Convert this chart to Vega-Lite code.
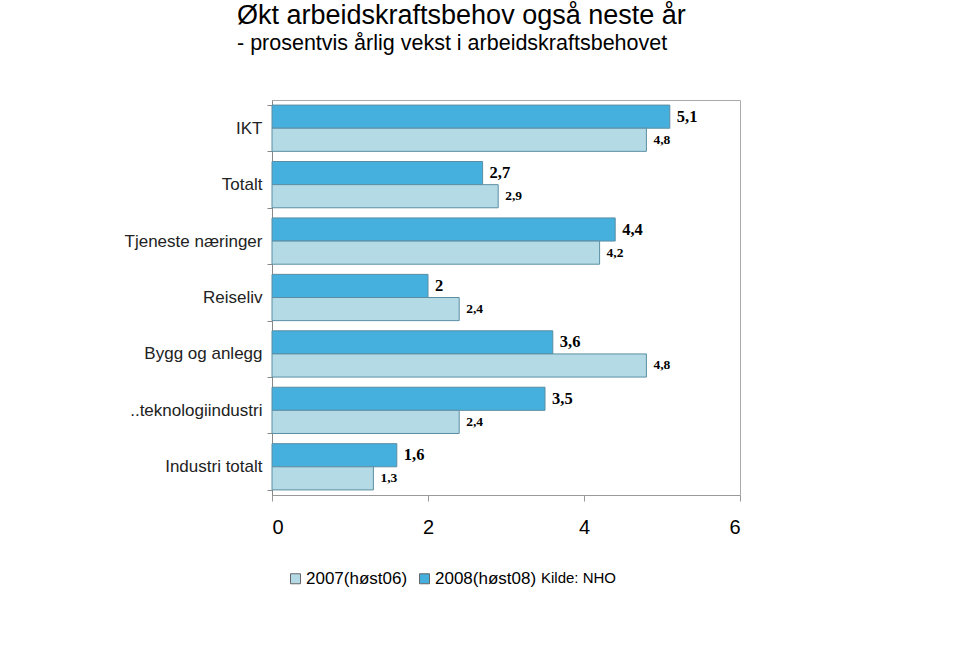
{
  "$schema": "https://vega.github.io/schema/vega-lite/v6.json",
  "width": 468,
  "height": 395,
  "autosize": {"type": "none"},
  "padding": {"left": 272, "top": 100, "right": 220, "bottom": 163},
  "background": "white",
  "config": {
    "locale": {"number": {"decimal": ",", "thousands": " ", "grouping": [3], "currency": ["", " kr"]}},
    "font": "Liberation Sans",
    "view": {"stroke": "#aaaaaa", "strokeWidth": 1}
  },
  "title": {
    "text": "Økt arbeidskraftsbehov også neste år",
    "subtitle": "- prosentvis årlig vekst i arbeidskraftsbehovet",
    "anchor": "start",
    "frame": "group",
    "dx": -35,
    "offset": 36,
    "font": "Liberation Sans",
    "fontSize": 27,
    "fontWeight": "normal",
    "color": "#000000",
    "subtitleFont": "Liberation Sans",
    "subtitleFontSize": 21.5,
    "subtitleColor": "#000000",
    "subtitlePadding": 3
  },
  "data": {
    "values": [
      {"cat": "IKT", "serie": "2008(høst08)", "v": 5.1},
      {"cat": "IKT", "serie": "2007(høst06)", "v": 4.8},
      {"cat": "Totalt", "serie": "2008(høst08)", "v": 2.7},
      {"cat": "Totalt", "serie": "2007(høst06)", "v": 2.9},
      {"cat": "Tjeneste næringer", "serie": "2008(høst08)", "v": 4.4},
      {"cat": "Tjeneste næringer", "serie": "2007(høst06)", "v": 4.2},
      {"cat": "Reiseliv", "serie": "2008(høst08)", "v": 2},
      {"cat": "Reiseliv", "serie": "2007(høst06)", "v": 2.4},
      {"cat": "Bygg og anlegg", "serie": "2008(høst08)", "v": 3.6},
      {"cat": "Bygg og anlegg", "serie": "2007(høst06)", "v": 4.8},
      {"cat": "..teknologiindustri", "serie": "2008(høst08)", "v": 3.5},
      {"cat": "..teknologiindustri", "serie": "2007(høst06)", "v": 2.4},
      {"cat": "Industri  totalt", "serie": "2008(høst08)", "v": 1.6},
      {"cat": "Industri  totalt", "serie": "2007(høst06)", "v": 1.3}
    ]
  },
  "encoding": {
    "y": {
      "field": "cat",
      "type": "nominal",
      "sort": ["IKT", "Totalt", "Tjeneste næringer", "Reiseliv", "Bygg og anlegg", "..teknologiindustri", "Industri  totalt"],
      "scale": {"paddingInner": 0.18, "paddingOuter": 0.09},
      "axis": {
        "title": null,
        "tickBand": "extent",
        "tickSize": 5,
        "tickColor": "#888888",
        "domainColor": "#888888",
        "labelFontSize": 17,
        "labelColor": "#222222",
        "labelPadding": 5,
        "labelFont": "Liberation Sans",
        "labelLimit": 300
      }
    },
    "yOffset": {
      "field": "serie",
      "type": "nominal",
      "scale": {"domain": ["2008(høst08)", "2007(høst06)"], "paddingInner": 0, "paddingOuter": 0}
    },
    "x": {
      "field": "v",
      "type": "quantitative",
      "scale": {"domain": [0, 6], "nice": false},
      "axis": {
        "title": null,
        "values": [0, 2, 4, 6],
        "grid": false,
        "tickSize": 6,
        "tickColor": "#999999",
        "domainColor": "#999999",
        "labelFontSize": 20,
        "labelColor": "#000000",
        "labelPadding": 16,
        "labelFont": "Liberation Sans",
        "format": "d"
      }
    }
  },
  "layer": [
    {
      "mark": {"type": "bar", "stroke": "#5b8ea3", "strokeWidth": 1},
      "encoding": {
        "color": {
          "field": "serie",
          "type": "nominal",
          "scale": {"domain": ["2007(høst06)", "2008(høst08)"], "range": ["#b4dae6", "#45afde"]},
          "legend": {
            "orient": "none",
            "legendX": 15,
            "legendY": 470,
            "direction": "horizontal",
            "title": "Kilde: NHO",
            "titleOrient": "right",
            "titleFontSize": 15,
            "titleFontWeight": "normal",
            "titleColor": "#000000",
            "titleFont": "Liberation Sans",
            "titlePadding": 5,
            "titleBaseline": "middle",
            "titleAnchor": "middle",
            "symbolType": "square",
            "symbolSize": 100,
            "symbolStrokeColor": "#666666",
            "symbolStrokeWidth": 1,
            "labelFontSize": 17,
            "labelColor": "#000000",
            "labelFont": "Liberation Sans",
            "labelOffset": 2,
            "columnPadding": 8
          }
        }
      }
    },
    {
      "mark": {"type": "text", "align": "left", "baseline": "middle", "dx": 7, "font": "Liberation Serif", "fontWeight": "bold", "color": "#000000"},
      "encoding": {
        "text": {"field": "v", "type": "quantitative", "format": "~g"},
        "size": {
          "field": "serie",
          "type": "nominal",
          "scale": {"domain": ["2008(høst08)", "2007(høst06)"], "range": [16.5, 13.5]},
          "legend": null
        }
      }
    }
  ]
}
